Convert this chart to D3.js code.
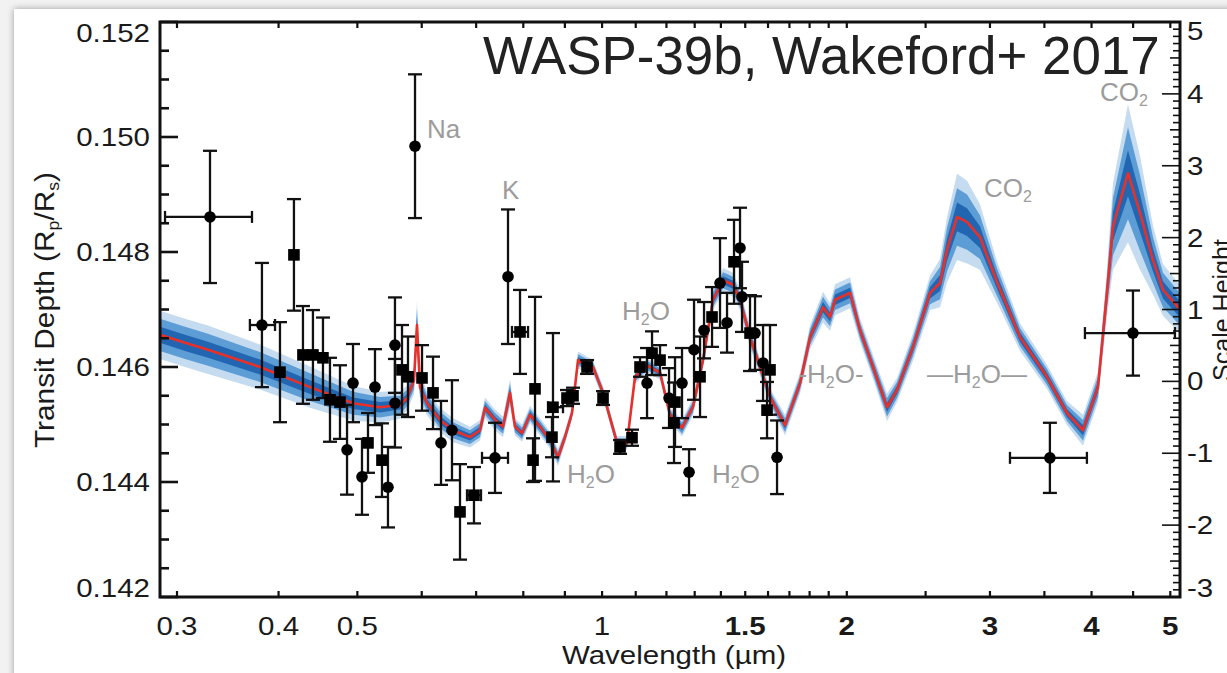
<!DOCTYPE html>
<html><head><meta charset="utf-8">
<script src="https://cdn.jsdelivr.net/npm/d3@7"></script>
<style>
body{margin:0;background:#f2f2f2;}
svg{display:block;font-family:"Liberation Sans",Arial,Helvetica,sans-serif;}
</style>
</head><body><svg id="c" width="1227" height="673"></svg>
<script>
// ---------------- DATA ----------------
// Model spectrum (wavelength in micron, transit depth Rp/Rs, 1-sigma spread)
const modelWl = [0.2859,0.3069,0.3275,0.3795,0.4372,0.4939,0.5331,0.5642,0.5755,0.5870,0.5920,0.5971,0.6091,0.6319,0.6556,0.6879,0.7077,0.7178,0.7384,0.7553,0.7705,0.7814,0.7971,0.8154,0.8388,0.8629,0.8827,0.9003,0.9184,0.9341,0.9747,1.0027,1.0433,1.0733,1.0978,1.1358,1.1784,1.2122,1.2541,1.2939,1.3310,1.3692,1.4086,1.4490,1.4780,1.5205,1.5642,1.6091,1.6790,1.7520,1.8023,1.8698,1.9073,1.9345,2.0184,2.0763,2.1542,2.2413,2.3057,2.4126,2.5316,2.6043,2.6565,2.7329,2.8114,2.9163,3.0600,3.2664,3.5250,3.7308,3.9039,4.0734,4.1787,4.2504,4.4349,4.5885,4.7604,4.8969,5.1390];
const modelDepth = [0.14656,0.14642,0.14630,0.14600,0.14565,0.14537,0.14530,0.14534,0.14546,0.14577,0.14673,0.14565,0.14537,0.14508,0.14490,0.14478,0.14490,0.14529,0.14508,0.14496,0.14555,0.14496,0.14485,0.14517,0.14496,0.14473,0.14443,0.14478,0.14520,0.14612,0.14600,0.14555,0.14468,0.14468,0.14583,0.14603,0.14590,0.14517,0.14494,0.14531,0.14612,0.14717,0.14751,0.14743,0.14717,0.14652,0.14600,0.14548,0.14499,0.14572,0.14652,0.14704,0.14687,0.14717,0.14729,0.14664,0.14600,0.14530,0.14560,0.14635,0.14729,0.14746,0.14804,0.14861,0.14852,0.14826,0.14748,0.14652,0.14583,0.14520,0.14490,0.14565,0.14729,0.14844,0.14937,0.14868,0.14786,0.14734,0.14700];
const modelSigma = [0.00014,0.00014,0.00014,0.00013,0.00012,0.00010,0.00009,0.00008,0.00007,0.00008,0.00014,0.00008,0.00007,0.00007,0.00007,0.00006,0.00006,0.00006,0.00006,0.00006,0.00008,0.00005,0.00005,0.00005,0.00005,0.00005,0.00005,0.00004,0.00004,0.00005,0.00004,0.00004,0.00004,0.00004,0.00004,0.00004,0.00004,0.00004,0.00005,0.00005,0.00005,0.00006,0.00007,0.00007,0.00006,0.00006,0.00005,0.00005,0.00006,0.00006,0.00007,0.00009,0.00008,0.00009,0.00009,0.00007,0.00007,0.00008,0.00007,0.00008,0.00010,0.00014,0.00019,0.00025,0.00024,0.00019,0.00012,0.00008,0.00007,0.00007,0.00009,0.00009,0.00014,0.00025,0.00040,0.00033,0.00020,0.00015,0.00014];

// Observations
const obsWl = [0.3294,0.3816,0.4178,0.4016,0.4286,0.4409,0.4536,0.4627,0.4760,0.4856,0.4939,0.5066,0.5153,0.5256,0.5361,0.5453,0.5562,0.5562,0.5674,0.5771,0.5887,0.6005,0.6195,0.6337,0.6537,0.6687,0.6957,0.7384,0.7661,0.7926,0.8270,0.8224,0.8702,0.8677,0.9054,0.9210,0.9583,1.0027,1.0522,1.0885,1.1134,1.1358,1.1520,1.1784,1.2088,1.2295,1.2260,1.2541,1.2793,1.2975,1.3198,1.3348,1.3654,1.3966,1.4246,1.4531,1.4780,1.4864,1.5205,1.5422,1.5776,1.6091,1.5955,1.6414,3.555,4.498];
const obsDepth = [0.14861,0.14673,0.14795,0.14591,0.14621,0.14621,0.14616,0.14543,0.14539,0.14456,0.14572,0.14409,0.14468,0.14565,0.14438,0.14391,0.14638,0.14537,0.14595,0.14583,0.14984,0.14581,0.14555,0.14468,0.14490,0.14348,0.14377,0.14442,0.14757,0.14661,0.14562,0.14438,0.14530,0.14478,0.14546,0.14550,0.14600,0.14546,0.14461,0.14477,0.14600,0.14572,0.14624,0.14612,0.14546,0.14539,0.14503,0.14572,0.14417,0.14630,0.14583,0.14664,0.14687,0.14746,0.14677,0.14783,0.14807,0.14722,0.14659,0.14659,0.14607,0.14595,0.14525,0.14443,0.14442,0.14659];
const obsErr = [0.00115,0.00108,0.00097,0.00087,0.00085,0.00078,0.00070,0.00073,0.00064,0.00078,0.00068,0.00066,0.00052,0.00066,0.00064,0.00070,0.00083,0.00077,0.00078,0.00070,0.00125,0.00057,0.00063,0.00073,0.00087,0.00083,0.00049,0.00061,0.00117,0.00073,0.00160,0.00038,0.00129,0.00035,0.00014,0.00014,0.00012,0.00012,0.00012,0.00014,0.00017,0.00061,0.00038,0.00026,0.00052,0.00078,0.00070,0.00061,0.00040,0.00087,0.00070,0.00049,0.00052,0.00078,0.00052,0.00073,0.00070,0.00061,0.00066,0.00064,0.00066,0.00078,0.00049,0.00064,0.00061,0.00074];
const obsShape = ["c","c","s","s","s","s","s","s","s","c","c","c","s","c","s","c","c","c","s","s","c","s","s","c","c","s","s","c","c","s","s","s","s","s","s","s","s","s","s","s","s","c","s","s","c","s","s","c","c","c","s","c","s","c","c","s","c","c","s","c","c","s","s","c","c","c"];
// wavelength bin edges (null = no horizontal bar)
const obsWlLo = [0.290,0.3688,null,null,null,null,null,null,null,null,null,null,null,null,null,null,null,null,null,null,null,null,null,null,null,null,0.6821,0.7117,null,0.7748,null,null,0.8580,null,null,null,null,null,null,null,null,null,null,null,null,null,null,null,null,null,null,null,null,null,null,null,null,null,null,null,null,null,null,null,3.175,3.926];
const obsWlHi = [0.371,0.3960,null,null,null,null,null,null,null,null,null,null,null,null,null,null,null,null,null,null,null,null,null,null,null,null,0.7097,0.7661,null,0.8108,null,null,0.8952,null,null,null,null,null,null,null,null,null,null,null,null,null,null,null,null,null,null,null,null,null,null,null,null,null,null,null,null,null,null,null,3.948,5.066];

// Axes
const xTickValues = [0.3,0.4,0.5,1,1.5,2,3,4,5];
const xTickLabels = ["0.3","0.4","0.5","1","1.5","2","3","4","5"];
const xMinorTicks = [0.3,0.4,0.5,0.6,0.7,0.8,0.9,1.0,1.1,1.2,1.3,1.4,1.5,1.6,1.7,1.8,1.9,2.0,2.5,3.0,3.5,4.0,4.5,5.0];
const yTickValues = [0.142,0.144,0.146,0.148,0.150,0.152];
const yTickLabels = ["0.142","0.144","0.146","0.148","0.150","0.152"];
const rTickValues = [-3,-2,-1,0,1,2,3,4,5];
const rTickLabels = ["-3","-2","-1","0","1","2","3","4","5"];

// Annotations (label, wavelength, depth of baseline)
const annoNames = ["Na","K","H2O","H2O","H2O","-H2O-","—H2O—","CO2","CO2"];
const annoWl = [0.6091,0.7532,1.1326,0.9692,1.4614,1.9127,2.8916,3.157,4.385];
const annoDepth = [0.14998,0.14892,0.14682,0.14398,0.14398,0.14572,0.14572,0.14896,0.15063];

// ---------------- LAYOUT ----------------
const W = 1227, H = 673;
const L = 160, R = 1180, T = 22, B = 597;
const svg = d3.select("#c");

const defs = svg.append("defs");
const f = defs.append("filter").attr("id","sh").attr("x","-5%").attr("y","-5%").attr("width","110%").attr("height","110%");
f.append("feDropShadow").attr("dx",0).attr("dy",0).attr("stdDeviation",3.5).attr("flood-color","#000").attr("flood-opacity",0.35);
defs.append("clipPath").attr("id","plotclip").append("rect").attr("x",L).attr("y",T).attr("width",R-L).attr("height",B-T);

svg.append("rect").attr("width",W).attr("height",H).attr("fill","#f2f2f2");
svg.append("rect").attr("x",14).attr("y",9).attr("width",W).attr("height",H).attr("fill","#fff").attr("filter","url(#sh)");

const x = d3.scaleLog().domain([0.2859, 5.139]).range([L, R]);
const y = d3.scaleLinear().domain([0.142, 0.152]).range([B, T]);
const yR = d3.scaleLinear().domain([-3, 5]).range([B, T]);

// ---------------- MODEL ----------------
const model = modelWl.map((w,i)=>({w, d:modelDepth[i], s:modelSigma[i]}));
const g = svg.append("g").attr("clip-path","url(#plotclip)");
const bandColors = ["#c4dbf0","#5d9dd6","#2266b2"];
[3,2,1].forEach((k,j)=>{
  g.append("path").datum(model)
   .attr("fill",bandColors[j])
   .attr("d", d3.area().x(p=>x(p.w)).y0(p=>y(p.d - k*p.s)).y1(p=>y(p.d + k*p.s)));
});
g.append("path").datum(model)
 .attr("fill","none").attr("stroke","#e8302a").attr("stroke-width",2.6).attr("stroke-linejoin","round")
 .attr("d", d3.line().x(p=>x(p.w)).y(p=>y(p.d)));

// ---------------- OBSERVATIONS ----------------
const obs = obsWl.map((w,i)=>({w,d:obsDepth[i],e:obsErr[i],sh:obsShape[i],lo:obsWlLo[i],hi:obsWlHi[i]}));
const eg = svg.append("g").attr("stroke","#111").attr("stroke-width",2.3).attr("fill","none");
obs.forEach(p=>{
  const cx = x(p.w), cy = y(p.d), y1 = y(p.d+p.e), y2 = y(p.d-p.e);
  const cw = 7;
  eg.append("line").attr("x1",cx).attr("x2",cx).attr("y1",y1).attr("y2",y2);
  eg.append("line").attr("x1",cx-cw).attr("x2",cx+cw).attr("y1",y1).attr("y2",y1);
  eg.append("line").attr("x1",cx-cw).attr("x2",cx+cw).attr("y1",y2).attr("y2",y2);
  if (p.lo !== null) {
    const xa = x(p.lo), xb = x(p.hi);
    eg.append("line").attr("x1",xa).attr("x2",xb).attr("y1",cy).attr("y2",cy);
    eg.append("line").attr("x1",xa).attr("x2",xa).attr("y1",cy-6).attr("y2",cy+6);
    eg.append("line").attr("x1",xb).attr("x2",xb).attr("y1",cy-6).attr("y2",cy+6);
  }
});
const mg = svg.append("g").attr("fill","#000");
obs.forEach(p=>{
  const cx = x(p.w), cy = y(p.d);
  if (p.sh === "c") mg.append("circle").attr("cx",cx).attr("cy",cy).attr("r",5.8);
  else mg.append("rect").attr("x",cx-5.8).attr("y",cy-5.8).attr("width",11.6).attr("height",11.6);
});

// ---------------- FRAME & TICKS ----------------
const ax = svg.append("g").attr("stroke","#111");
ax.append("rect").attr("x",L).attr("y",T).attr("width",R-L).attr("height",B-T).attr("fill","none").attr("stroke-width",3);
xMinorTicks.forEach(v=>{
  const px = x(v);
  ax.append("line").attr("x1",px).attr("x2",px).attr("y1",B).attr("y2",B-6).attr("stroke-width",2.2);
  ax.append("line").attr("x1",px).attr("x2",px).attr("y1",T).attr("y2",T+6).attr("stroke-width",2.2);
});
d3.range(0,21).forEach(i=>{
  const v = 0.142 + i*0.0005;
  const major = i % 4 === 0;
  ax.append("line").attr("x1",L).attr("x2",L+(major?18:9)).attr("y1",y(v)).attr("y2",y(v)).attr("stroke-width",2.6);
});
d3.range(0,81).forEach(i=>{
  const v = -3 + i*0.1;
  const len = i % 10 === 0 ? 18 : (i % 5 === 0 ? 10 : 7);
  ax.append("line").attr("x1",R).attr("x2",R-len).attr("y1",yR(v)).attr("y2",yR(v)).attr("stroke-width",1.6);
});

function stretch(sel, k){
  sel.each(function(){
    const n = this.getComputedTextLength();
    d3.select(this).attr("textLength", n*k).attr("lengthAdjust","spacingAndGlyphs");
  });
}
const SX = 1.18;
const tg = svg.append("g").attr("fill","#1a1a1a").attr("font-size",25);
yTickValues.forEach((v,i)=>{
  const cy = Math.max(33, Math.min(588, y(v)));
  const t = tg.append("text").attr("x",150).attr("y",cy).attr("dy","0.36em").attr("text-anchor","end").text(yTickLabels[i]);
  stretch(t, SX);
});
rTickValues.forEach((v,i)=>{
  const cy = Math.max(31, Math.min(588, yR(v)));
  const t = tg.append("text").attr("x",1187).attr("y",cy).attr("dy","0.36em").attr("text-anchor","start").text(rTickLabels[i]);
  stretch(t, SX);
});
const boldSet = new Set(["1.5","2","3","4","5"]);
xTickValues.forEach((v,i)=>{
  const t = tg.append("text").attr("x",x(v)).attr("y",635).attr("text-anchor","middle")
    .attr("font-weight", boldSet.has(xTickLabels[i]) ? "bold" : "normal").text(xTickLabels[i]);
  stretch(t, SX);
});

// Axis titles
const xt = tg.append("text").attr("x",674).attr("y",664).attr("text-anchor","middle").text("Wavelength (µm)");
stretch(xt, SX);
const yt = tg.append("text").attr("transform","translate(54,310) rotate(-90)").attr("text-anchor","middle").attr("font-size",27);
yt.append("tspan").text("Transit Depth (R");
yt.append("tspan").attr("font-size",16).attr("dy",5).text("p");
yt.append("tspan").attr("dy",-5).text("/R");
yt.append("tspan").attr("font-size",16).attr("dy",5).text("s");
yt.append("tspan").attr("dy",-5).text(")");
yt.attr("textLength",276).attr("lengthAdjust","spacingAndGlyphs");
tg.append("text").attr("transform","translate(1231,310) rotate(-90)").attr("text-anchor","middle").text("Scale Height");

// ---------------- ANNOTATIONS ----------------
const an = svg.append("g").attr("fill","#9c9c9c").attr("font-size",26);
annoNames.forEach((name,i)=>{
  const t = an.append("text").attr("x",x(annoWl[i])).attr("y",y(annoDepth[i]));
  const anchor = (name==="Na"||name==="K") ? "start" : "middle";
  t.attr("text-anchor", anchor);
  const m = name.match(/^(.*?)([A-Z][a-z]?)(2)(.*)$/);
  if (m) {
    t.append("tspan").text(m[1] + m[2]);
    t.append("tspan").attr("font-size",16).attr("dy",5).text(m[3]);
    t.append("tspan").attr("dy",-5).text(m[4]);
  } else t.text(name);
});

// ---------------- TITLE ----------------
svg.append("text").attr("x",483).attr("y",74).attr("font-size",52.9).attr("fill","#222").text("WASP-39b, Wakeford+ 2017");
</script>
</body></html>
